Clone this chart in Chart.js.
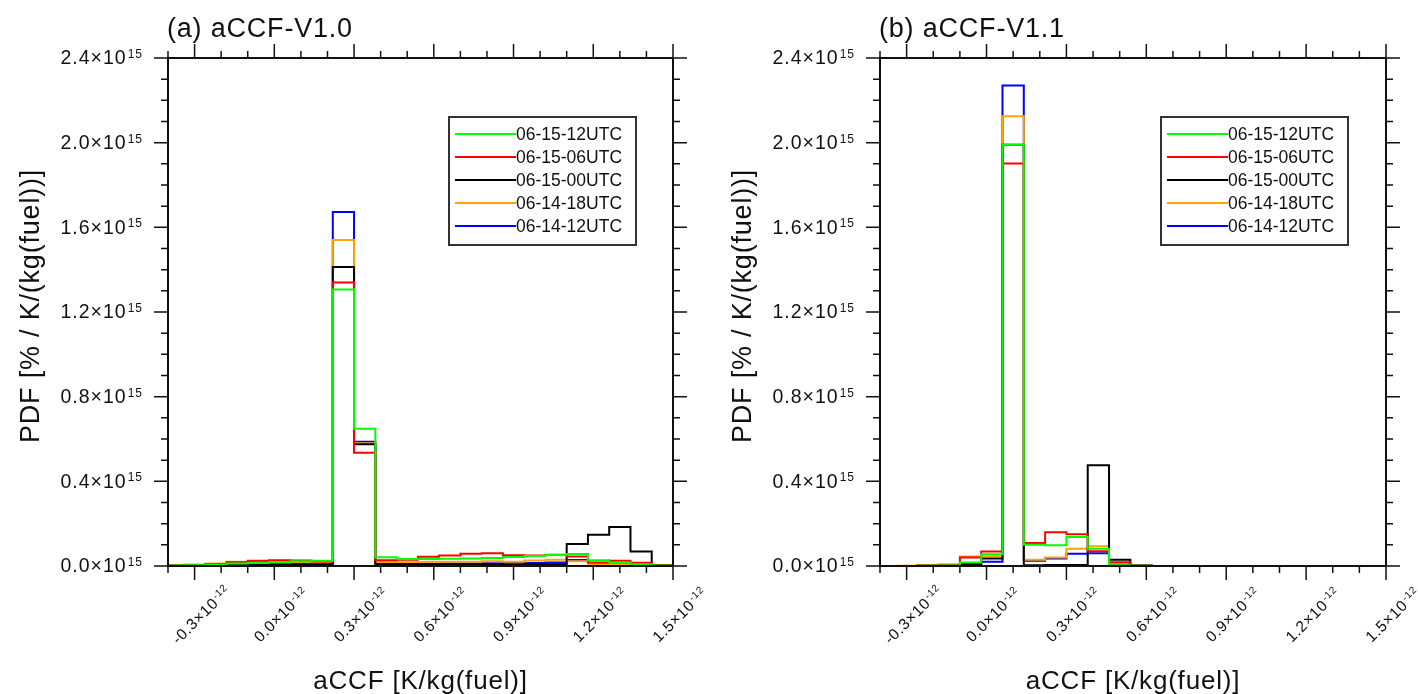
<!DOCTYPE html>
<html>
<head>
<meta charset="utf-8">
<script src="https://cdn.jsdelivr.net/npm/chart.js@4.4.1/dist/chart.umd.min.js"></script>
<style>
html, body { margin: 0; padding: 0; background: #fff; }
#wrap { position: relative; width: 1418px; height: 694px; overflow: hidden; background: #fff; }
.pane { position: absolute; top: 0; width: 709px; height: 694px; }
</style>
</head>
<body>
<div id="wrap">
  <div class="pane" style="left:0px"><canvas id="cA" width="709" height="694"></canvas></div>
  <div class="pane" style="left:709px"><canvas id="cB" width="709" height="694"></canvas></div>
</div>
<script>
// ---------- DATA ----------
// histogram bin edges, aCCF in units of 10^-12 K/kg(fuel)
const binEdges = [-0.42, -0.34, -0.26, -0.18, -0.10, -0.02, 0.06, 0.14, 0.22, 0.30, 0.38, 0.46, 0.54,
                  0.62, 0.70, 0.78, 0.86, 0.94, 1.02, 1.10, 1.18, 1.26, 1.34, 1.42, 1.50];

const seriesLabels = ['06-15-12UTC', '06-15-06UTC', '06-15-00UTC', '06-14-18UTC', '06-14-12UTC'];

// PDF values in units of 10^15 %/K/(kg(fuel)) — panel (a) aCCF-V1.0
const a_0615_12 = [0.002, 0.004, 0.006, 0.012, 0.014, 0.018, 0.022, 0.025, 1.306, 0.649, 0.041, 0.033,
                   0.033, 0.034, 0.036, 0.038, 0.043, 0.047, 0.052, 0.057, 0.027, 0.017, 0.007, 0.002];
const a_0615_06 = [0.002, 0.004, 0.008, 0.018, 0.025, 0.027, 0.026, 0.021, 1.339, 0.535, 0.027, 0.030,
                   0.044, 0.050, 0.058, 0.060, 0.051, 0.050, 0.053, 0.045, 0.017, 0.025, 0.015, 0.003];
const a_0615_00 = [0.001, 0.002, 0.003, 0.004, 0.005, 0.006, 0.007, 0.008, 1.413, 0.575, 0.008, 0.008,
                   0.008, 0.008, 0.008, 0.008, 0.008, 0.008, 0.008, 0.104, 0.148, 0.184, 0.069, 0.003];
const a_0614_18 = [0.002, 0.007, 0.012, 0.020, 0.019, 0.020, 0.018, 0.014, 1.540, 0.580, 0.018, 0.018,
                   0.019, 0.020, 0.020, 0.022, 0.020, 0.026, 0.030, 0.022, 0.010, 0.008, 0.005, 0.002];
const a_0614_12 = [0.001, 0.002, 0.004, 0.006, 0.007, 0.008, 0.010, 0.012, 1.672, 0.587, 0.012, 0.012,
                   0.012, 0.012, 0.012, 0.013, 0.018, 0.014, 0.016, 0.028, 0.012, 0.008, 0.004, 0.001];

// panel (b) aCCF-V1.1
const b_0615_12 = [0, 0, 0.001, 0.002, 0.017, 0.055, 1.990, 0.100, 0.098, 0.137, 0.082, 0.003,
                   0.001, 0, 0, 0, 0, 0, 0, 0, 0, 0, 0, 0];
const b_0615_06 = [0, 0, 0.001, 0.003, 0.040, 0.068, 1.902, 0.109, 0.160, 0.150, 0.070, 0.018,
                   0.001, 0, 0, 0, 0, 0, 0, 0, 0, 0, 0, 0];
const b_0615_00 = [0, 0, 0.001, 0.001, 0.010, 0.035, 1.990, 0.004, 0.005, 0.005, 0.476, 0.030,
                   0.002, 0, 0, 0, 0, 0, 0, 0, 0, 0, 0, 0];
const b_0614_18 = [0, 0.001, 0.004, 0.008, 0.045, 0.046, 2.125, 0.030, 0.040, 0.082, 0.093, 0.012,
                   0.002, 0, 0, 0, 0, 0, 0, 0, 0, 0, 0, 0];
const b_0614_12 = [0, 0, 0.001, 0.001, 0.007, 0.020, 2.270, 0.025, 0.035, 0.058, 0.060, 0.006,
                   0.001, 0, 0, 0, 0, 0, 0, 0, 0, 0, 0, 0];

// tick labels
const xTickValues = [-0.3, 0.0, 0.3, 0.6, 0.9, 1.2, 1.5];
const yTickValues = [0.0, 0.4, 0.8, 1.2, 1.6, 2.0, 2.4];
const xExponent = '-12';
const yExponent = '15';
const panelTitles = ['(a) aCCF-V1.0', '(b) aCCF-V1.1'];
const xAxisTitle = 'aCCF [K/kg(fuel)]';
const yAxisTitle = 'PDF [% / K/(kg(fuel))]';

// ---------- STYLE ----------
const seriesColors = ['#00ff00', '#ff0000', '#000000', '#ffa500', '#0000ff'];
const FONT = '"Liberation Sans", Arial, Helvetica, sans-serif';
const X_MIN = -0.4, X_MAX = 1.5, Y_MIN = 0, Y_MAX = 2.4;

function setFont(ctx, size, ls) {
  ctx.font = size + 'px ' + FONT;
  try { ctx.letterSpacing = (ls || 0) + 'px'; } catch (e) {}
}

function sciMeasure(ctx, base, exp, fs, es, ls) {
  setFont(ctx, fs, ls);
  const wb = ctx.measureText(base).width;
  setFont(ctx, es, ls);
  const we = ctx.measureText(exp).width;
  return { wb: wb, we: we, w: wb + 1 + we };
}

// draw "base" + superscript "exp"; x = left edge, y = middle of base text
function sciDraw(ctx, base, exp, x, y, fs, es, ls) {
  const m = sciMeasure(ctx, base, exp, fs, es, ls);
  setFont(ctx, fs, ls);
  ctx.textAlign = 'left';
  ctx.textBaseline = 'middle';
  ctx.fillText(base, x, y);
  setFont(ctx, es, ls);
  ctx.textBaseline = 'alphabetic';
  ctx.fillText(exp, x + m.wb + 1, y - 1);
  return m;
}

function near(a, b) { return Math.abs(a - b) < 1e-6; }

const decorPlugin = {
  id: 'decor',
  beforeDraw(chart) {
    const ctx = chart.ctx;
    ctx.save();
    ctx.fillStyle = '#fff';
    ctx.fillRect(0, 0, chart.width, chart.height);
    ctx.restore();
  },
  afterDraw(chart) {
    const ctx = chart.ctx;
    const a = chart.chartArea;
    const xs = chart.scales.x, ys = chart.scales.y;
    const opts = chart.options.plugins.decor;
    ctx.save();

    // frame
    ctx.strokeStyle = '#111';
    ctx.lineWidth = 2;
    ctx.strokeRect(a.left, a.top, a.right - a.left, a.bottom - a.top);

    // ticks (outward on all four sides), minor every 0.1
    ctx.lineWidth = 1.5;
    ctx.strokeStyle = '#111';
    const MAJ = 14, MIN = 7;
    for (let k = Math.round(X_MIN * 10); k <= Math.round(X_MAX * 10); k++) {
      const v = k / 10;
      const isMaj = xTickValues.some(t => near(t, v));
      const len = isMaj ? MAJ : MIN;
      const px = xs.getPixelForValue(v);
      ctx.beginPath();
      ctx.moveTo(px, a.bottom); ctx.lineTo(px, a.bottom + len);
      ctx.moveTo(px, a.top); ctx.lineTo(px, a.top - len);
      ctx.stroke();
    }
    for (let k = Math.round(Y_MIN * 10); k <= Math.round(Y_MAX * 10); k++) {
      const v = k / 10;
      const isMaj = yTickValues.some(t => near(t, v));
      const len = isMaj ? MAJ : MIN;
      const py = ys.getPixelForValue(v);
      ctx.beginPath();
      ctx.moveTo(a.left, py); ctx.lineTo(a.left - len, py);
      ctx.moveTo(a.right, py); ctx.lineTo(a.right + len, py);
      ctx.stroke();
    }

    ctx.fillStyle = '#111';
    // y tick labels
    yTickValues.forEach(v => {
      const base = v.toFixed(1) + '\u00d710';
      const m = sciMeasure(ctx, base, yExponent, 19.5, 12, 1.0);
      const py = ys.getPixelForValue(v);
      sciDraw(ctx, base, yExponent, a.left - 25 - m.w, py + 1, 19.5, 12, 1.0);
    });
    // x tick labels rotated 45 degrees
    xTickValues.forEach(v => {
      const base = v.toFixed(1) + '\u00d710';
      const m = sciMeasure(ctx, base, xExponent, 15.5, 10, 0.7);
      const px = xs.getPixelForValue(v);
      ctx.save();
      ctx.translate(px + 6, a.bottom + 48);
      ctx.rotate(-Math.PI / 4);
      sciDraw(ctx, base, xExponent, -m.w / 2, 2, 15.5, 10, 0.7);
      ctx.restore();
    });

    // panel title
    setFont(ctx, 27, 0.8);
    ctx.textAlign = 'left';
    ctx.textBaseline = 'alphabetic';
    ctx.fillText(opts.title, a.left - 1, 37);

    // x axis title
    setFont(ctx, 26, 0.8);
    ctx.textAlign = 'center';
    ctx.fillText(xAxisTitle, (a.left + a.right) / 2, 689);

    // y axis title
    ctx.save();
    ctx.translate(a.left - 129, (a.top + a.bottom) / 2 - 6);
    ctx.rotate(-Math.PI / 2);
    setFont(ctx, 27, 0.8);
    ctx.textAlign = 'center';
    ctx.textBaseline = 'alphabetic';
    ctx.fillText(yAxisTitle, 0, 0);
    ctx.restore();

    // legend box
    const lx = a.left + 281, ly = 117, lw = 187, lh = 128;
    ctx.strokeStyle = '#333';
    ctx.lineWidth = 2;
    ctx.strokeRect(lx, ly, lw, lh);
    chart.data.datasets.forEach((ds, i) => {
      const yy = 134 + i * 23;
      ctx.strokeStyle = ds.borderColor;
      ctx.lineWidth = 2;
      ctx.beginPath();
      ctx.moveTo(lx + 6, yy);
      ctx.lineTo(lx + 67, yy);
      ctx.stroke();
      ctx.fillStyle = '#111';
      setFont(ctx, 17.5, 0);
      ctx.textAlign = 'left';
      ctx.textBaseline = 'middle';
      ctx.fillText(ds.label, lx + 67, yy + 1);
    });

    ctx.restore();
  }
};

function makeChart(id, seriesList, title, padLeft, padRight) {
  const datasets = seriesList.map((vals, i) => ({
    label: seriesLabels[i],
    data: binEdges.map((e, j) => ({ x: e, y: j < vals.length ? vals[j] : 0 })),
    borderColor: seriesColors[i],
    backgroundColor: seriesColors[i],
    borderWidth: 2,
    pointRadius: 0,
    pointHoverRadius: 0,
    stepped: 'before',
    fill: false,
    tension: 0
  }));
  return new Chart(document.getElementById(id), {
    type: 'line',
    data: { datasets: datasets },
    options: {
      responsive: false,
      animation: false,
      devicePixelRatio: 1,
      events: [],
      layout: { padding: { left: padLeft, right: padRight, top: 58, bottom: 128 } },
      plugins: {
        legend: { display: false },
        tooltip: { enabled: false },
        title: { display: false },
        decor: { title: title }
      },
      scales: {
        x: { type: 'linear', min: X_MIN, max: X_MAX, display: false },
        y: { type: 'linear', min: Y_MIN, max: Y_MAX, display: false }
      }
    },
    plugins: [decorPlugin]
  });
}

makeChart('cA', [a_0615_12, a_0615_06, a_0615_00, a_0614_18, a_0614_12], panelTitles[0], 168, 36);
makeChart('cB', [b_0615_12, b_0615_06, b_0615_00, b_0614_18, b_0614_12], panelTitles[1], 171, 32);
</script>
</body>
</html>
